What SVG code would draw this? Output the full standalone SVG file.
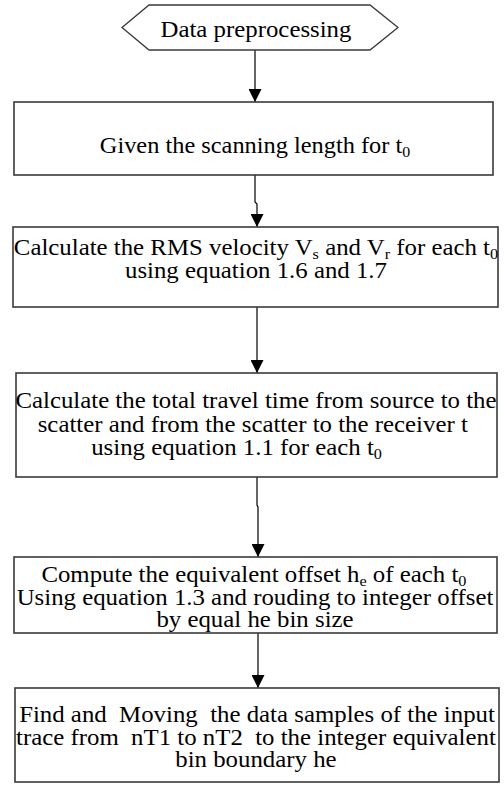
<svg xmlns="http://www.w3.org/2000/svg" width="504" height="791" viewBox="0 0 504 791">
<defs>
<marker id="arr" markerUnits="userSpaceOnUse" markerWidth="14" markerHeight="13" refX="13" refY="6.5" orient="auto">
<path d="M0,0 L13,6.5 L0,13 Z" fill="#000"/>
</marker>
<style>
.box{fill:#fff;stroke:#3a3a3a;stroke-width:1.6}
.t{font-family:"Liberation Serif","Times New Roman",serif;font-size:23px;fill:#000;white-space:pre;text-anchor:middle}
.sub{font-size:15px}
.c{fill:none;stroke:#000;stroke-width:1.2}
</style>
</defs>
<g id="connectors">
<path class="c" d="M255,50 V102" marker-end="url(#arr)"/>
<path class="c" d="M255,175 V202 L257,204 V227" marker-end="url(#arr)"/>
<path class="c" d="M257,307 V373" marker-end="url(#arr)"/>
<path class="c" d="M257,477 V505 L258,507 V557" marker-end="url(#arr)"/>
<path class="c" d="M258,633 V688" marker-end="url(#arr)"/>
</g>
<g id="start">
<polygon points="122,27.5 149,5 370,5 398,27.5 370,50 149,50" fill="#fff" stroke="#3a3a3a" stroke-width="1.3"/>
<text class="t" x="256" y="37" transform="translate(256,0) scale(1.08,1) translate(-256,0)">Data preprocessing</text>
</g>
<g id="n1">
<rect class="box" x="14" y="102" width="479" height="73"/>
<text class="t" x="255" y="153" transform="translate(255,0) scale(1.06,1) translate(-255,0)">Given the scanning length for t<tspan class="sub" dy="4">0</tspan></text>
</g>
<g id="n2">
<rect class="box" x="13" y="227" width="485" height="80"/>
<g transform="translate(256,0) scale(1.08,1) translate(-256,0)">
<text class="t" x="256" y="255">Calculate the RMS velocity V<tspan class="sub" dy="4">s</tspan><tspan dy="-4"> and V</tspan><tspan class="sub" dy="4">r</tspan><tspan dy="-4"> for each t</tspan><tspan class="sub" dy="4">0</tspan></text>
<text class="t" x="256" y="278">using equation 1.6 and 1.7</text>
</g>
</g>
<g id="n3">
<rect class="box" x="16" y="373" width="481" height="104"/>
<g transform="translate(256,0) scale(1.08,1) translate(-256,0)">
<text class="t" x="256" y="408">Calculate the total travel time from source to the</text>
<text class="t" x="253" y="432">scatter and from the scatter to the receiver t</text>
<text class="t" x="238" y="455">using equation 1.1 for each t<tspan class="sub" dy="4">0</tspan></text>
</g>
</g>
<g id="n4">
<rect class="box" x="14" y="557" width="483" height="76"/>
<g transform="translate(255,0) scale(1.08,1) translate(-255,0)">
<text class="t" x="254" y="582">Compute the equivalent offset h<tspan class="sub" dy="4">e</tspan><tspan dy="-4"> of each t</tspan><tspan class="sub" dy="4">0</tspan></text>
<text class="t" x="255" y="605">Using equation 1.3 and rouding to integer offset</text>
<text class="t" x="255" y="627">by equal he bin size</text>
</g>
</g>
<g id="n5">
<rect class="box" x="15" y="688" width="484" height="94"/>
<g transform="translate(257,0) scale(1.08,1) translate(-257,0)">
<text class="t" x="257" y="722">Find and  Moving  the data samples of the input</text>
<text class="t" x="256" y="745">trace from  nT1 to nT2  to the integer equivalent</text>
<text class="t" x="256" y="767">bin boundary he</text>
</g>
</g>
</svg>
